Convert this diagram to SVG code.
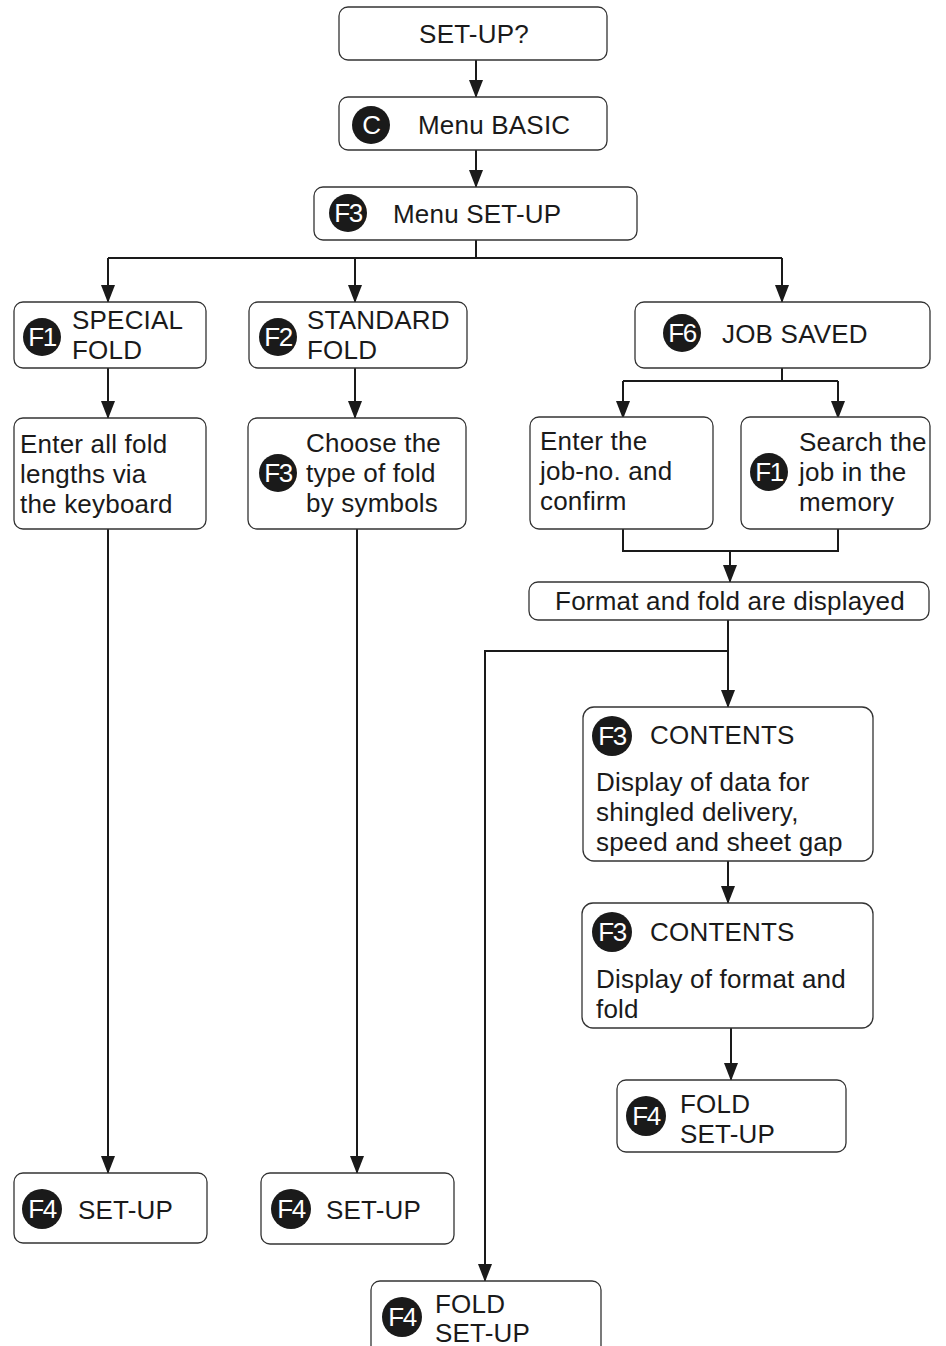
<svg xmlns="http://www.w3.org/2000/svg" width="946" height="1346" viewBox="0 0 946 1346">
<style>
.box{fill:#fff;stroke:#333;stroke-width:1.3}
.t{font-family:"Liberation Sans",Arial,sans-serif;font-size:26px;letter-spacing:0.2px;fill:#1a1a1a}
.c{fill:#1a1a1a}
.k{font-family:"Liberation Sans",Arial,sans-serif;font-size:26px;letter-spacing:-1.5px;fill:#fff;text-anchor:middle}
.ln{fill:none;stroke:#1a1a1a;stroke-width:2}
</style>
<defs>
<marker id="a" markerWidth="18" markerHeight="14" refX="17" refY="7" orient="auto" markerUnits="userSpaceOnUse" viewBox="0 0 18 14">
<path d="M0,0 L18,7 L0,14 Z" fill="#1a1a1a"/>
</marker>
</defs>
<g id="connectors">
<path class="ln" d="M476,60 V97" marker-end="url(#a)"/>
<path class="ln" d="M476,150 V187" marker-end="url(#a)"/>
<path class="ln" d="M476,240 V258"/>
<path class="ln" d="M108,258 H782"/>
<path class="ln" d="M108,258 V302" marker-end="url(#a)"/>
<path class="ln" d="M355,258 V302" marker-end="url(#a)"/>
<path class="ln" d="M782,258 V302" marker-end="url(#a)"/>
<path class="ln" d="M108,368 V418" marker-end="url(#a)"/>
<path class="ln" d="M355,368 V418" marker-end="url(#a)"/>
<path class="ln" d="M108,529 V1173" marker-end="url(#a)"/>
<path class="ln" d="M357,529 V1173" marker-end="url(#a)"/>
<path class="ln" d="M782,368 V381"/>
<path class="ln" d="M623,381 H838"/>
<path class="ln" d="M623,381 V418" marker-end="url(#a)"/>
<path class="ln" d="M838,381 V418" marker-end="url(#a)"/>
<path class="ln" d="M623,529 V551 H838 V529"/>
<path class="ln" d="M730,551 V582" marker-end="url(#a)"/>
<path class="ln" d="M728,620 V707" marker-end="url(#a)"/>
<path class="ln" d="M728,651 H485 V1281" marker-end="url(#a)"/>
<path class="ln" d="M728,861 V903" marker-end="url(#a)"/>
<path class="ln" d="M731,1028 V1080" marker-end="url(#a)"/>
</g>
<g id="n1"><rect class="box" x="339" y="7" width="268" height="53" rx="9"/><text class="t" x="474" y="43" text-anchor="middle">SET-UP?</text></g>
<g id="n2"><rect class="box" x="339" y="97" width="268" height="53" rx="9"/><circle class="c" cx="371" cy="125" r="19"/><text class="k" x="371" y="134">C</text><text class="t" x="418" y="134">Menu BASIC</text></g>
<g id="n3"><rect class="box" x="314" y="187" width="323" height="53" rx="9"/><circle class="c" cx="348" cy="213" r="19"/><text class="k" x="348" y="222">F3</text><text class="t" x="393" y="223">Menu SET-UP</text></g>
<g id="n4"><rect class="box" x="14" y="302" width="192" height="66" rx="9"/><circle class="c" cx="42" cy="337" r="19"/><text class="k" x="42" y="346">F1</text><text class="t" x="72" y="329">SPECIAL</text><text class="t" x="72" y="359">FOLD</text></g>
<g id="n5"><rect class="box" x="249" y="302" width="218" height="66" rx="9"/><circle class="c" cx="278" cy="337" r="19"/><text class="k" x="278" y="346">F2</text><text class="t" x="307" y="329">STANDARD</text><text class="t" x="307" y="359">FOLD</text></g>
<g id="n6"><rect class="box" x="635" y="302" width="295" height="66" rx="9"/><circle class="c" cx="682" cy="333" r="19"/><text class="k" x="682" y="342">F6</text><text class="t" x="722" y="343">JOB SAVED</text></g>
<g id="n7"><rect class="box" x="14" y="418" width="192" height="111" rx="9"/><text class="t" x="20" y="453">Enter all fold</text><text class="t" x="20" y="483">lengths via</text><text class="t" x="20" y="513">the keyboard</text></g>
<g id="n8"><rect class="box" x="248" y="418" width="218" height="111" rx="9"/><circle class="c" cx="278" cy="473" r="19"/><text class="k" x="278" y="482">F3</text><text class="t" x="306" y="452">Choose the</text><text class="t" x="306" y="482">type of fold</text><text class="t" x="306" y="512">by symbols</text></g>
<g id="n9"><rect class="box" x="530" y="417" width="183" height="112" rx="9"/><text class="t" x="540" y="450">Enter the</text><text class="t" x="540" y="480">job-no. and</text><text class="t" x="540" y="510">confirm</text></g>
<g id="n10"><rect class="box" x="741" y="417" width="189" height="112" rx="9"/><circle class="c" cx="769" cy="472" r="19"/><text class="k" x="769" y="481">F1</text><text class="t" x="799" y="451">Search the</text><text class="t" x="799" y="481">job in the</text><text class="t" x="799" y="511">memory</text></g>
<g id="n11"><rect class="box" x="529" y="582" width="400" height="38" rx="9"/><text class="t" x="730" y="610" text-anchor="middle">Format and fold are displayed</text></g>
<g id="n12"><rect class="box" x="583" y="707" width="290" height="154" rx="11"/><circle class="c" cx="612" cy="736" r="20"/><text class="k" x="612" y="745">F3</text><text class="t" x="650" y="744">CONTENTS</text><text class="t" x="596" y="791">Display of data for</text><text class="t" x="596" y="821">shingled delivery,</text><text class="t" x="596" y="851">speed and sheet gap</text></g>
<g id="n13"><rect class="box" x="582" y="903" width="291" height="125" rx="11"/><circle class="c" cx="612" cy="932" r="20"/><text class="k" x="612" y="941">F3</text><text class="t" x="650" y="941">CONTENTS</text><text class="t" x="596" y="988">Display of format and</text><text class="t" x="596" y="1018">fold</text></g>
<g id="n14"><rect class="box" x="617" y="1080" width="229" height="72" rx="9"/><circle class="c" cx="646" cy="1116" r="20"/><text class="k" x="646" y="1125">F4</text><text class="t" x="680" y="1113">FOLD</text><text class="t" x="680" y="1143">SET-UP</text></g>
<g id="n15"><rect class="box" x="14" y="1173" width="193" height="70" rx="9"/><circle class="c" cx="42" cy="1209" r="20"/><text class="k" x="42" y="1218">F4</text><text class="t" x="78" y="1219">SET-UP</text></g>
<g id="n16"><rect class="box" x="261" y="1173" width="193" height="71" rx="9"/><circle class="c" cx="291" cy="1209" r="20"/><text class="k" x="291" y="1218">F4</text><text class="t" x="326" y="1219">SET-UP</text></g>
<g id="n17"><rect class="box" x="371" y="1281" width="230" height="80" rx="9"/><circle class="c" cx="402" cy="1317" r="20"/><text class="k" x="402" y="1326">F4</text><text class="t" x="435" y="1313">FOLD</text><text class="t" x="435" y="1342">SET-UP</text></g>
</svg>
